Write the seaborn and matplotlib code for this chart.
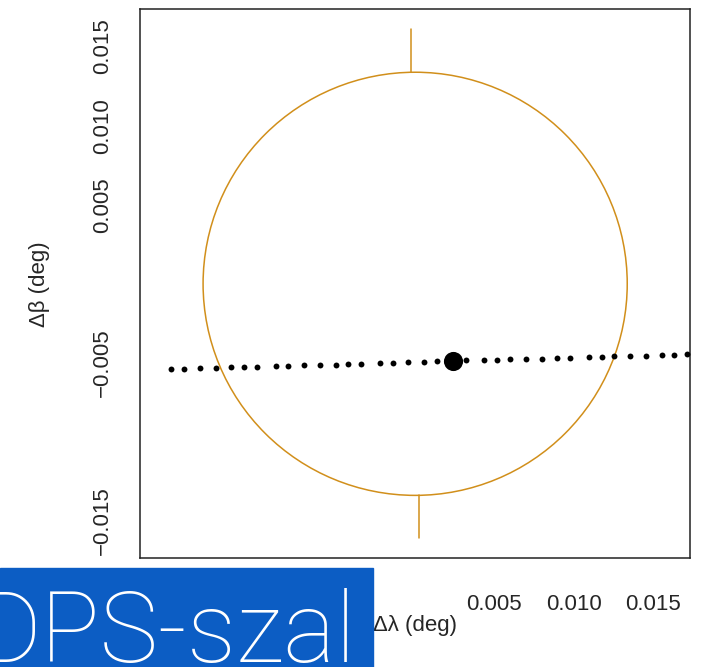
import matplotlib
matplotlib.use("Agg")
import matplotlib.pyplot as plt
from matplotlib.patches import Circle, Rectangle
import seaborn as sns

# dotted track (deg)
track_lon = [-0.01541, -0.01459, -0.01358, -0.01259, -0.01162, -0.01080, -0.01000,
             -0.00880, -0.00801, -0.00702, -0.00601, -0.00502, -0.00422, -0.00342,
             -0.00222, -0.00142, -0.00044, 0.00056, 0.00136, 0.00230, 0.00319,
             0.00436, 0.00518, 0.00598, 0.00697, 0.00798, 0.00897, 0.00977,
             0.01097, 0.01177, 0.01256, 0.01355, 0.01454, 0.01555, 0.01633, 0.01713]
track_lat = [-0.00536, -0.00536, -0.00534, -0.00532, -0.00528, -0.00526, -0.00524,
             -0.00520, -0.00518, -0.00515, -0.00513, -0.00511, -0.00507, -0.00505,
             -0.00501, -0.00499, -0.00496, -0.00494, -0.00491, -0.00488, -0.00484,
             -0.00482, -0.00480, -0.00477, -0.00475, -0.00473, -0.00471, -0.00469,
             -0.00465, -0.00463, -0.00458, -0.00456, -0.00454, -0.00452, -0.00450,
             -0.00446]

# current position
pos_lon = [0.00237]
pos_lat = [-0.00490]

# circle and the two marks on it
circle_lon = 0.0
circle_lat = 0.0
circle_r = 0.01338
mark_lon = [-0.00026, 0.00026]
mark_inner = [0.01338, -0.01338]
mark_outer = [0.0161, -0.0161]

ticks = [-0.015, -0.010, -0.005, 0.0, 0.005, 0.010, 0.015]
xtick_labels = ["", "", "", "", "0.005", "0.010", "0.015"]
ytick_labels = ["\u22120.015", "", "\u22120.005", "", "0.005", "0.010", "0.015"]

gold = "#D18F1B"
W, H = 706, 667

sns.set_style("white")
plt.rcParams["font.family"] = ["Liberation Sans", "DejaVu Sans"]

fig = plt.figure(figsize=(W / 100, H / 100), dpi=100)
ax = fig.add_axes([140 / W, (H - 558.3) / H, 550 / W, 549 / H])

ax.add_patch(Circle((circle_lon, circle_lat), circle_r, fill=False,
                    edgecolor=gold, linewidth=1.1))
for x, y0, y1 in zip(mark_lon, mark_inner, mark_outer):
    ax.plot([x, x], [y0, y1], color=gold, linewidth=1.1)

sns.scatterplot(x=track_lon, y=track_lat, ax=ax, color="black", s=18,
                linewidth=0, zorder=3)
sns.scatterplot(x=pos_lon, y=pos_lat, ax=ax, color="black", s=190,
                linewidth=0, zorder=4)

ax.set_xlim(-0.01736, 0.01734)
ax.set_ylim(-0.01736, 0.01736)
ax.set_xticks(ticks)
ax.set_xticklabels(xtick_labels, fontsize=16)
ax.set_yticks(ticks)
ax.set_yticklabels(ytick_labels, fontsize=16, rotation=90, va="center")
ax.tick_params(direction="out", length=10.4, width=1.0, color="#333333")
ax.tick_params(axis="x", pad=15)
ax.tick_params(axis="y", pad=9)
for s in ax.spines.values():
    s.set_color("#222222")
    s.set_linewidth(1.1)

fig.text(40 / W, 1 - 284 / H, "\u0394\u03b2 (deg)", rotation=90,
         ha="center", va="center", fontsize=16)
fig.text(415 / W, 1 - 625 / H, "\u0394\u03bb (deg)",
         ha="center", va="center", fontsize=16)

# blue banner on top, its text runs off the left edge as in the source
fig.add_artist(Rectangle((0, 0), 373 / W, (H - 568) / H, transform=fig.transFigure,
                         color="#0C5DC4", zorder=10))
fig.text(356 / W, 5 / H, "DPS-szal", ha="right", va="baseline", fontsize=71,
         color="white", family=["Roboto", "DejaVu Sans"], fontweight="light",
         zorder=11)

fig.savefig("out.png", dpi=100)
